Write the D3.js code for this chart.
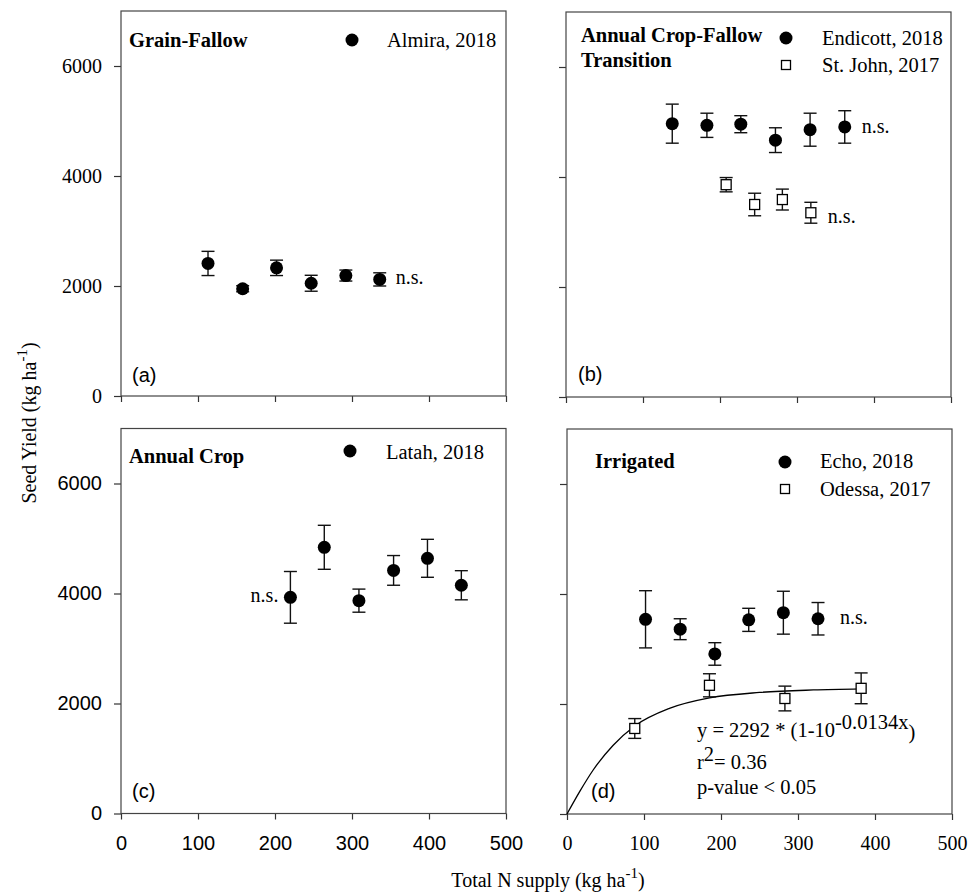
<!DOCTYPE html>
<html>
<head>
<meta charset="utf-8">
<script src="https://cdn.jsdelivr.net/npm/d3@7"></script>
<style>
  body { margin: 0; background: #fff; }
</style>
</head>
<body>
<div id="chart"></div>
<script>
// axis ticks
const xTicks = [0, 100, 200, 300, 400, 500];
const yTicks = [0, 2000, 4000, 6000];

// (a) Grain-Fallow
const almiraN = [113, 158, 202, 247, 292, 336];
const almiraYield = [2410, 1950, 2330, 2050, 2190, 2120];
const almiraSE = [220, 55, 140, 145, 100, 120];

// (b) Annual Crop-Fallow Transition
const endicottN = [138, 183, 227, 272, 317, 362];
const endicottYield = [4970, 4940, 4960, 4670, 4860, 4910];
const endicottSE = [355, 220, 155, 225, 300, 295];
const stJohnN = [208, 245, 281, 318];
const stJohnYield = [3860, 3500, 3590, 3350];
const stJohnSE = [130, 205, 190, 190];

// (c) Annual Crop
const latahN = [220, 264, 309, 354, 398, 442];
const latahYield = [3930, 4840, 3870, 4420, 4640, 4150];
const latahSE = [470, 400, 210, 270, 345, 265];

// (d) Irrigated
const echoN = [102, 147, 192, 236, 281, 326];
const echoYield = [3540, 3360, 2910, 3530, 3660, 3550];
const echoSE = [520, 190, 205, 210, 390, 295];
const odessaN = [88, 185, 283, 382];
const odessaYield = [1555, 2340, 2100, 2285];
const odessaSE = [180, 210, 225, 280];
// fitted curve for Odessa
const odessaFitN = [0, 17, 34, 60, 88, 133, 185, 250, 320, 382];
const odessaFitYield = [0, 420, 800, 1250, 1600, 1920, 2110, 2210, 2255, 2275];

const SERIF = "'Liberation Serif', 'Times New Roman', serif";
const SANS = "'Liberation Sans', Arial, sans-serif";
const W = 385, H = 385;

const svg = d3.select("#chart").append("svg")
    .attr("width", 968)
    .attr("height", 892);

// ns: [point index (-1 = last), dx, dy, anchor]
const panels = [
    { left: 121, top: 11, letter: "(a)", letterPos: [132, 382],
      title: ["Grain-Fallow"], titlePos: [129, 47],
      yFont: SERIF, xFont: null,
      legend: { mx: 352, tx: 387, rows: [40], base: [47] },
      series: [
        { name: "Almira, 2018", n: almiraN, y: almiraYield, se: almiraSE, shape: "circle", ns: [-1, 16, 5, "start"] }
      ] },
    { left: 566, top: 12, letter: "(b)", letterPos: [578, 381],
      title: ["Annual Crop-Fallow", "Transition"], titlePos: [581, 42],
      yFont: null, xFont: null,
      legend: { mx: 786, tx: 822, rows: [38, 65], base: [45, 72] },
      series: [
        { name: "Endicott, 2018", n: endicottN, y: endicottYield, se: endicottSE, shape: "circle", ns: [-1, 17, 6, "start"] },
        { name: "St. John, 2017", n: stJohnN, y: stJohnYield, se: stJohnSE, shape: "square", ns: [-1, 17, 10, "start"] }
      ] },
    { left: 121, top: 428.5, letter: "(c)", letterPos: [132, 798],
      title: ["Annual Crop"], titlePos: [129, 463],
      yFont: SANS, xFont: SANS,
      legend: { mx: 350, tx: 386, rows: [451], base: [459] },
      series: [
        { name: "Latah, 2018", n: latahN, y: latahYield, se: latahSE, shape: "circle", ns: [0, -12, 5, "end"] }
      ] },
    { left: 567, top: 429, letter: "(d)", letterPos: [591, 798],
      title: ["Irrigated"], titlePos: [595, 468],
      yFont: null, xFont: SERIF,
      legend: { mx: 785, tx: 820, rows: [462, 489], base: [468, 496] },
      series: [
        { name: "Echo, 2018", n: echoN, y: echoYield, se: echoSE, shape: "circle", ns: [-1, 22, 5, "start"] },
        { name: "Odessa, 2017", n: odessaN, y: odessaYield, se: odessaSE, shape: "square", ns: null }
      ],
      fit: { n: odessaFitN, y: odessaFitYield } }
];

function marker(sel, shape, cx, cy, size) {
    if (shape === "circle") {
        sel.append("circle")
            .attr("cx", cx).attr("cy", cy).attr("r", size / 2)
            .attr("fill", "#000");
    } else {
        sel.append("rect")
            .attr("x", cx - size / 2).attr("y", cy - size / 2)
            .attr("width", size).attr("height", size)
            .attr("fill", "#fff").attr("stroke", "#000").attr("stroke-width", 1.3);
    }
}

panels.forEach(p => {
    const x = d3.scaleLinear().domain([0, 500]).range([p.left, p.left + W]);
    const y = d3.scaleLinear().domain([0, 7000]).range([p.top + H, p.top]);
    const g = svg.append("g");

    // axes
    const yAxis = g.append("g")
        .attr("transform", `translate(${p.left},0)`)
        .call(d3.axisLeft(y).tickValues(yTicks).tickSize(7).tickSizeOuter(0).tickPadding(12)
            .tickFormat(p.yFont ? d3.format("d") : ""));
    yAxis.attr("font-family", p.yFont || SERIF).attr("font-size", 20);

    const xAxis = g.append("g")
        .attr("transform", `translate(0,${p.top + H})`)
        .call(d3.axisBottom(x).tickValues(xTicks).tickSize(6).tickSizeOuter(0).tickPadding(16)
            .tickFormat(p.xFont ? d3.format("d") : ""));
    xAxis.attr("font-family", p.xFont || SERIF).attr("font-size", 20);

    g.selectAll(".domain").remove();
    g.selectAll(".tick line").attr("stroke", "#333").attr("stroke-width", 1.2);
    g.selectAll(".tick text").attr("fill", "#000");

    g.append("rect")
        .attr("x", p.left).attr("y", p.top)
        .attr("width", W).attr("height", H)
        .attr("fill", "none")
        .attr("stroke", "#444")
        .attr("stroke-width", 1.2);

    // fitted curve
    if (p.fit) {
        const line = d3.line()
            .x((d, i) => x(p.fit.n[i]))
            .y(d => y(d))
            .curve(d3.curveMonotoneX);
        g.append("path")
            .attr("d", line(p.fit.y))
            .attr("fill", "none")
            .attr("stroke", "#000")
            .attr("stroke-width", 1.3);
    }

    p.series.forEach((s, si) => {
        const idx = d3.range(s.n.length);
        // error bars
        const eb = g.append("g").attr("stroke", "#111").attr("stroke-width", 1.4);
        idx.forEach(i => {
            const cx = x(s.n[i]);
            const y1 = y(s.y[i] + s.se[i]), y0 = y(s.y[i] - s.se[i]);
            eb.append("line").attr("x1", cx).attr("x2", cx).attr("y1", y1).attr("y2", y0);
            eb.append("line").attr("x1", cx - 6.5).attr("x2", cx + 6.5).attr("y1", y1).attr("y2", y1);
            eb.append("line").attr("x1", cx - 6.5).attr("x2", cx + 6.5).attr("y1", y0).attr("y2", y0);
        });
        idx.forEach(i => marker(g, s.shape, x(s.n[i]), y(s.y[i]), s.shape === "circle" ? 13 : 10));

        // n.s. note next to one of the points
        if (s.ns) {
            const k = s.ns[0] < 0 ? s.n.length - 1 : s.ns[0];
            g.append("text")
                .attr("x", x(s.n[k]) + s.ns[1])
                .attr("y", y(s.y[k]) + s.ns[2])
                .attr("text-anchor", s.ns[3])
                .attr("font-family", SERIF).attr("font-size", 20)
                .text("n.s.");
        }

        // legend
        marker(g, s.shape, p.legend.mx, p.legend.rows[si], s.shape === "circle" ? 13 : 9);
        g.append("text")
            .attr("x", p.legend.tx).attr("y", p.legend.base[si])
            .attr("font-family", SERIF).attr("font-size", 20.5)
            .text(s.name);
    });

    // panel title
    p.title.forEach((t, i) => {
        g.append("text")
            .attr("x", p.titlePos[0]).attr("y", p.titlePos[1] + i * 25)
            .attr("font-family", SERIF).attr("font-weight", "bold").attr("font-size", 20.5)
            .text(t);
    });

    g.append("text")
        .attr("x", p.letterPos[0]).attr("y", p.letterPos[1])
        .attr("font-family", SANS).attr("font-size", 20)
        .text(p.letter);
});

// equation text in panel (d)
const eq = svg.append("g").attr("font-family", SERIF).attr("font-size", 20.5);
const eq1 = eq.append("text").attr("x", 697).attr("y", 737);
eq1.append("tspan").text("y = 2292 * (1-10");
eq1.append("tspan").attr("dy", -8).text("-0.0134x");
eq1.append("tspan").attr("dy", 10).text(")");
const eq2 = eq.append("text").attr("x", 697).attr("y", 769);
eq2.append("tspan").text("r");
eq2.append("tspan").attr("dy", -8).text("2");
eq2.append("tspan").attr("dy", 8).text("= 0.36");
eq.append("text").attr("x", 697).attr("y", 794).text("p-value < 0.05");

// axis titles
const yt = svg.append("text")
    .attr("transform", "translate(36,423) rotate(-90)")
    .attr("text-anchor", "middle")
    .attr("font-family", SERIF).attr("font-size", 20);
yt.append("tspan").text("Seed Yield (kg ha");
yt.append("tspan").attr("dy", -9).attr("font-size", 15).text("-1");
yt.append("tspan").attr("dy", 9).text(")");

const xt = svg.append("text")
    .attr("x", 548).attr("y", 887)
    .attr("text-anchor", "middle")
    .attr("font-family", SERIF).attr("font-size", 20);
xt.append("tspan").text("Total N supply (kg ha");
xt.append("tspan").attr("dy", -9).attr("font-size", 15).text("-1");
xt.append("tspan").attr("dy", 9).text(")");
</script>
</body>
</html>
